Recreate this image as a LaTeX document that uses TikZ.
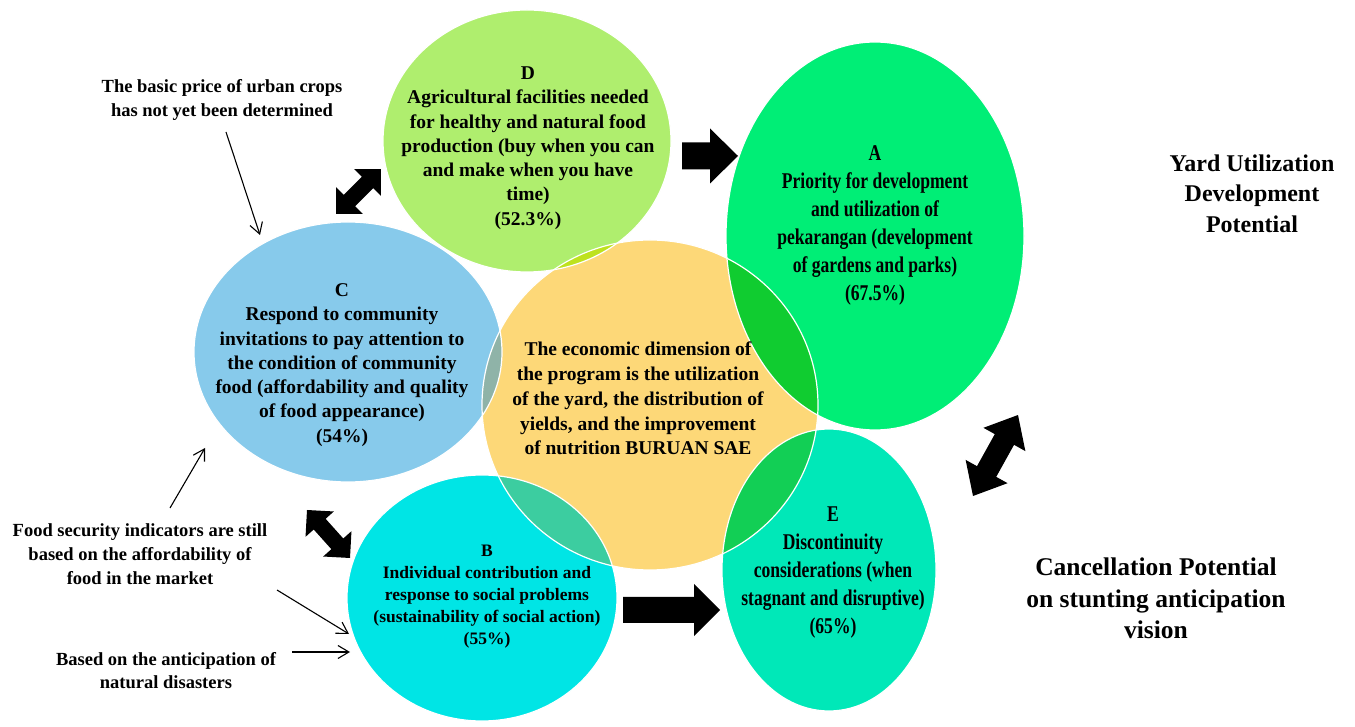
\documentclass[tikz,border=0pt]{standalone}
\usepackage{fontspec}
\setmainfont{Liberation Serif}
\newfontfamily\condserif{Liberation Serif}[FakeStretch=0.78]
\usetikzlibrary{arrows.meta,calc}
\definecolor{colD}{HTML}{AFEE6E}
\definecolor{colA}{HTML}{00EE76}
\definecolor{colC}{HTML}{87CAEB}
\definecolor{colO}{HTML}{FDD878}
\definecolor{colB}{HTML}{00E5E5}
\definecolor{colE}{HTML}{00E8B8}
\definecolor{ovA}{HTML}{10CC30}
\definecolor{ovE}{HTML}{12CF55}
\definecolor{ovC}{HTML}{8FB3A8}
\definecolor{ovB}{HTML}{3CCDA0}
\definecolor{ovD}{HTML}{BEE21E}
\tikzset{
  circtext/.style={align=center, inner sep=0pt, text=black,
    font=\bfseries\fontsize{19.5}{24.3}\selectfont},
  condtext/.style={align=center, inner sep=0pt, text=black,
    font=\condserif\bfseries\fontsize{22.5}{28}\selectfont},
  sidetext/.style={align=center, inner sep=0pt, text=black,
    font=\bfseries\fontsize{18.5}{24}\selectfont},
  blockarrow/.style={fill=black},
  thinarrow/.style={draw=black, line width=1.1pt,
    -{Straight Barb[length=11pt,width=13pt,line width=1.1pt]}},
  rim/.style={draw=white, line width=1.2pt}
}
\newcommand\blockdbl[5]{%
  \path let \p1=(#1), \p2=(#2) in \pgfextra{%
    \pgfmathparse{atan2(\y2-\y1,\x2-\x1)}\xdef\bkang{\pgfmathresult}%
    \pgfmathparse{veclen(\x2-\x1,\y2-\y1)}\xdef\bklen{\pgfmathresult}};
  \fill[blockarrow, shift={(#1)}, rotate=\bkang]
    (0,0) -- (#5,#4) -- (#5,#3) -- (\bklen-#5,#3) -- (\bklen-#5,#4) -- (\bklen,0)
    -- (\bklen-#5,-#4) -- (\bklen-#5,-#3) -- (#5,-#3) -- (#5,-#4) -- cycle;
}
\newcommand\blocksgl[5]{%
  \path let \p1=(#1), \p2=(#2) in \pgfextra{%
    \pgfmathparse{atan2(\y2-\y1,\x2-\x1)}\xdef\bkang{\pgfmathresult}%
    \pgfmathparse{veclen(\x2-\x1,\y2-\y1)}\xdef\bklen{\pgfmathresult}};
  \fill[blockarrow, shift={(#1)}, rotate=\bkang]
    (0,-#3) -- (\bklen-#5,-#3) -- (\bklen-#5,-#4) -- (\bklen,0)
    -- (\bklen-#5,#4) -- (\bklen-#5,#3) -- (0,#3) -- cycle;
}
\begin{document}
\begin{tikzpicture}[x=1pt,y=1pt]
\useasboundingbox (0,0) rectangle (1355,726);
\fill[white] (0,0) rectangle (1355,726);
% ellipses
\def\ellD{(527,585) ellipse [x radius=144pt, y radius=131pt]}
\def\ellA{(875,490) ellipse [x radius=149pt, y radius=194pt]}
\def\ellC{(348,374) ellipse [x radius=154pt, y radius=130pt]}
\def\ellO{(650,321) ellipse [x radius=168pt, y radius=165pt]}
\def\ellB{(482,128) ellipse [x radius=135pt, y radius=123pt]}
\def\ellE{(829,156) ellipse [x radius=107pt, y radius=141pt]}
\fill[colO] \ellO;
\fill[colD] \ellD;
\fill[colA] \ellA;
\fill[colC] \ellC;
\fill[colB] \ellB;
\fill[colE] \ellE;
\begin{scope}\clip \ellO; \fill[ovD] \ellD; \end{scope}
\begin{scope}\clip \ellO; \fill[ovA] \ellA; \end{scope}
\begin{scope}\clip \ellO; \fill[ovC] \ellC; \end{scope}
\begin{scope}\clip \ellO; \fill[ovB] \ellB; \end{scope}
\begin{scope}\clip \ellO; \fill[ovE] \ellE; \end{scope}
\draw[rim] \ellO; \draw[rim] \ellD; \draw[rim] \ellA;
\draw[rim] \ellC; \draw[rim] \ellB; \draw[rim] \ellE;
% circle texts
\node[circtext] (tD) at (528,578) {D\\Agricultural facilities needed\\for healthy and natural food\\production (buy when you can\\and make when you have\\time)\\(52.3\%)};
\node[circtext] (tC) at (342,361) {C\\Respond to community\\invitations to pay attention to\\the condition of community\\food (affordability and quality\\of food appearance)\\(54\%)};
\node[circtext, font=\bfseries\fontsize{19.5}{24.8}\selectfont] (tO) at (638,327.5) {The economic dimension of\\the program is the utilization\\of the yard, the distribution of\\yields, and the improvement\\of nutrition BURUAN SAE};
\node[condtext] (tA) at (875,501) {A\\Priority for development\\and utilization of\\pekarangan (development\\of gardens and parks)\\(67.5\%)};
\node[condtext] (tE) at (833,153) {E\\Discontinuity\\considerations (when\\stagnant and disruptive)\\(65\%)};
\node[circtext, font=\bfseries\fontsize{17.5}{22}\selectfont] (tB) at (487,129) {B\\Individual contribution and\\response to social problems\\(sustainability of social action)\\(55\%)};
% side labels
\node[sidetext, font=\bfseries\fontsize{24}{30.5}\selectfont] (yard) at (1252,532.5) {Yard Utilization\\Development\\Potential};
\node[sidetext, font=\bfseries\fontsize{25.5}{31.5}\selectfont] (cancel) at (1156,127.5) {Cancellation Potential\\on stunting anticipation\\vision};
\node[sidetext] (basic) at (222,626) {The basic price of urban crops\\has not yet been determined};
\node[sidetext] (food) at (140,172) {Food security indicators are still\\based on the affordability of\\food in the market};
\node[sidetext, font=\bfseries\fontsize{18.5}{23}\selectfont] (antic) at (166,55.5) {Based on the anticipation of\\natural disasters};
% thin arrows
\coordinate (basicS) at (226,594); \coordinate (basicT) at (260,491);
\coordinate (foodS) at (170,218);  \coordinate (foodT) at (205,278);
\coordinate (foodS2) at (277,136); \coordinate (foodT2) at (349,92);
\coordinate (anticS) at (292,74);  \coordinate (anticT) at (350,74);
\draw[thinarrow] (basicS) -- (basicT);
\draw[thinarrow] (foodS) -- (foodT);
\draw[thinarrow] (foodS2) -- (foodT2);
\draw[thinarrow] (anticS) -- (anticT);
% block arrows
\coordinate (cd1) at (336,512); \coordinate (cd2) at (381,557);
\coordinate (cb1) at (307,216); \coordinate (cb2) at (350,168);
\coordinate (ae1) at (973,230); \coordinate (ae2) at (1018,311);
\coordinate (da1) at (682,570); \coordinate (da2) at (738,570);
\coordinate (be1) at (623,116); \coordinate (be2) at (720,116);
\blockdbl{cd1}{cd2}{8}{19}{19}
\blockdbl{cb1}{cb2}{8}{19}{19}
\blockdbl{ae1}{ae2}{11}{24}{28}
\blocksgl{da1}{da2}{13.5}{27.5}{28}
\blocksgl{be1}{be2}{13}{26}{26}
\end{tikzpicture}
\end{document}
